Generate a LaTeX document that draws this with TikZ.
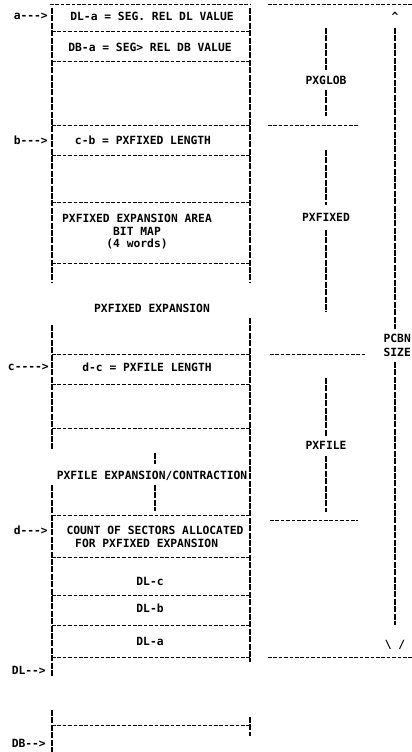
\documentclass[tikz,border=0pt]{standalone}
\usepackage{fontspec}
\newfontfamily\dotmono{DejaVu Sans Mono}[BoldFont={* Bold}]
\begin{document}
\begin{tikzpicture}[x=1pt,y=-1pt,
  hline/.style={line width=1pt, dash pattern=on 3.6pt off 1.8pt},
  vline/.style={line width=1.2pt, dash pattern=on 6pt off 1.4pt},
  txt/.style={font=\dotmono\bfseries\fontsize{11.3}{13}\selectfont, inner sep=0pt, align=center},
  lbl/.style={txt, anchor=east}]
\clip (0,0) rectangle (412,752);
\fill[white] (0,0) rectangle (412,752);
% ---- left box: borders
\draw[hline] (50,5) -- (250,5);
\draw[vline] (52,8) -- (52,283);
\draw[vline] (52,325) -- (52,450);
\draw[vline] (52,485) -- (52,677);
\draw[vline] (52,710) -- (52,752);
\draw[vline] (250,8) -- (250,283);
\draw[vline] (250,318) -- (250,662);
\draw[vline] (250,717) -- (250,736);
% horizontal separators
\foreach \yy in {32,62,125,155,202,263,354,384,428,515,557,595,625,657,725}
  \draw[hline] (52,\yy) -- (250,\yy);
% expansion / contraction marks
\draw[vline] (155,453) -- (155,464);
\draw[vline] (155,485) -- (155,511);
% ---- left box texts
\node[txt] (t1) at (152,16) {DL-a = SEG. REL DL VALUE};
\node[txt] (t2) at (150,47) {DB-a = SEG> REL DB VALUE};
\node[txt] (t3) at (143,140) {c-b = PXFIXED LENGTH};
\node[txt] (t4) at (137,218) {PXFIXED EXPANSION AREA};
\node[txt] (t5) at (137,231) {BIT MAP};
\node[txt] (t6) at (137,244) {(4 words)};
\node[txt] (t7) at (152,308) {PXFIXED EXPANSION};
\node[txt] (t8) at (147,367) {d-c = PXFILE LENGTH};
\node[txt] (t9) at (152,476) {PXFILE EXPANSION/CONTRACTION};
\node[txt] (t10) at (155,530) {COUNT OF SECTORS ALLOCATED};
\node[txt, anchor=west] (t11) at (75,543) {FOR PXFIXED EXPANSION};
\node[txt] (t12) at (150,581) {DL-c};
\node[txt] (t13) at (150,608) {DL-b};
\node[txt] (t14) at (150,641) {DL-a};
% ---- pointer labels
\node[lbl] (la) at (48,16) {a--->};
\node[lbl] (lb) at (48,140) {b--->};
\node[lbl] (lc) at (49,367) {c---->};
\node[lbl] (ld) at (48,530) {d--->};
\node[lbl] (lDL) at (46,670) {DL-->};
\node[lbl] (lDB) at (46,743) {DB-->};
% ---- middle column
\draw[hline] (268,5) -- (412,5);
\draw[vline] (326,28) -- (326,70);
\node[txt] (pg) at (326,80) {PXGLOB};
\draw[vline] (326,90) -- (326,116);
\draw[hline] (268,125) -- (358,125);
\draw[vline] (326,150) -- (326,205);
\node[txt] (pf) at (326,217) {PXFIXED};
\draw[vline] (326,230) -- (326,312);
\draw[hline] (270,354) -- (366,354);
\draw[vline] (326,378) -- (326,436);
\node[txt] (pl) at (326,445) {PXFILE};
\draw[vline] (326,456) -- (326,512);
\draw[hline] (270,520) -- (358,520);
% ---- right column
\node[txt] (up) at (395,16) {\^{}};
\draw[vline] (395,28) -- (395,329);
\node[txt, anchor=east] (pc) at (411,338) {PCBN};
\node[txt, anchor=east] (sz) at (411,352) {SIZE};
\draw[vline] (395,362) -- (395,625);
\node[txt] (dn) at (395,645) {\textbackslash{} /};
\draw[hline] (268,657) -- (412,657);
\end{tikzpicture}
\end{document}
